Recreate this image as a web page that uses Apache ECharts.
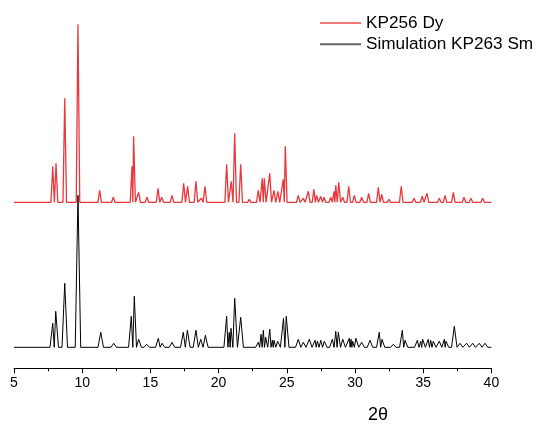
<!DOCTYPE html>
<html>
<head>
<meta charset="utf-8">
<script src="https://cdn.jsdelivr.net/npm/echarts@6/dist/echarts.min.js"></script>
<style>
html,body{margin:0;padding:0;background:#fff;}
#chart{width:541px;height:425px;}
</style>
</head>
<body>
<div id="chart"></div>
<script>
// x-axis ticks
const xTicks = [5, 10, 15, 20, 25, 30, 35, 40];
const seriesNames = ['KP256 Dy', 'Simulation KP263 Sm'];
const axisTitle = '2\u03B8';

// KP256 Dy (experimental) – peak positions (2θ) and intensities (a.u.)
const redPos = [7.84,8.08,8.72,9.69,11.28,12.28,13.65,13.77,14.14,14.75,15.56,15.83,16.58,17.44,17.73,18.34,18.73,19.0,20.59,20.93,21.18,21.62,22.25,22.91,23.2,23.35,23.75,24.06,24.35,24.74,24.89,25.84,26.21,26.58,26.99,27.19,27.49,27.73,28.22,28.46,28.59,28.81,29.1,29.54,29.95,30.49,31.0,31.71,31.96,32.49,33.39,34.33,34.93,35.28,36.18,36.6,37.21,37.99,38.5,39.36];
const redInt = [36,39,104,178,12,5,36,66,10,5,14,5,7,19,16,21,4,16,38,21,69,38,3,12,24,24,29,12,11,23,56,7,4,11,13,7,6,5,5,11,17,20,5,16,7,5,9,15,8,3,16,4,6,9,4,7,10,5,4,4];

// Simulation KP263 Sm – peak positions (2θ) and intensities (a.u.)
const blackPos = [7.84,8.06,8.72,9.69,11.36,12.31,13.6,13.82,14.14,14.73,15.58,15.85,16.58,17.41,17.71,18.34,18.69,19.03,20.59,20.78,20.91,21.18,21.62,22.91,23.11,23.28,23.45,23.75,23.94,24.06,24.33,24.76,24.96,25.84,26.21,26.65,27.07,27.24,27.49,27.75,28.34,28.59,28.78,29.1,29.58,29.71,29.83,30.07,30.49,31.1,31.78,31.98,32.81,33.47,33.67,34.57,34.82,34.96,35.37,35.55,35.74,36.18,36.55,36.67,37.28,37.7,38.19,38.63,39.11,39.53];
const blackInt = [24,36,64,152,15,4,31,51,8,3,9,4,5,15,17,17,8,12,31,15,19,49,30,5,13,17,10,18,7,7,6,29,31,8,5,8,7,6,7,6,8,16,15,8,9,8,6,9,5,7,15,8,3,17,7,7,6,8,8,7,6,6,8,6,21,4,4,4,4,4];

// vertical stacking offsets (a.u.)
const redOffset = 166;
const blackOffset = 21;

function buildPattern(pos, ints, halfW, offset) {
  const pts = [[xTicks[0], offset]];
  const n = pos.length;
  for (let i = 0; i < n; i++) {
    const x = pos[i];
    const lb = i > 0 ? Math.max(x - halfW, (pos[i-1] + x) / 2) : x - halfW;
    const rb = i < n - 1 ? Math.min(x + halfW, (x + pos[i+1]) / 2) : x + halfW;
    pts.push([lb, offset], [x, offset + ints[i]], [rb, offset]);
  }
  pts.push([xTicks[xTicks.length - 1], offset]);
  return pts;
}

const chart = echarts.init(document.getElementById('chart'), null, {renderer: 'canvas'});
const font = '"Liberation Sans", Arial, sans-serif';
chart.setOption({
  animation: false,
  backgroundColor: '#fff',
  grid: {left: 14, right: 49.6, top: 18.3, bottom: 56.7, containLabel: false},
  legend: {
    orient: 'vertical', left: 315, top: 8, itemWidth: 41, itemHeight: 2, itemGap: 1.3,
    icon: 'rect',
    textStyle: {fontFamily: font, fontSize: 17.2, color: '#000', lineHeight: 20},
    data: [
      {name: seriesNames[0], itemStyle: {color: '#f07a7a'}},
      {name: seriesNames[1], itemStyle: {color: '#666666'}}
    ]
  },
  xAxis: {
    type: 'value', min: xTicks[0], max: xTicks[xTicks.length - 1], interval: 5,
    axisLine: {show: true, lineStyle: {color: '#000', width: 1}},
    axisTick: {show: true, inside: false, length: 5, lineStyle: {color: '#000'}},
    minorTick: {show: true, splitNumber: 2, length: 3, lineStyle: {color: '#000'}},
    splitLine: {show: false},
    axisLabel: {fontFamily: font, fontSize: 14, color: '#000', margin: 8}
  },
  yAxis: {type: 'value', min: 0, max: 350, show: false, splitLine: {show: false}},
  graphic: [{
    type: 'text', left: 368, top: 406,
    style: {text: axisTitle, font: '18px "Liberation Sans", Arial, sans-serif', fill: '#000'}
  }],
  series: [
    {
      name: seriesNames[0], type: 'line', showSymbol: false, symbol: 'none',
      lineStyle: {color: '#e8383d', width: 1.3}, itemStyle: {color: '#e8383d'},
      data: buildPattern(redPos, redInt, 0.13, redOffset)
    },
    {
      name: seriesNames[1], type: 'line', showSymbol: false, symbol: 'none',
      lineStyle: {color: '#000', width: 1}, itemStyle: {color: '#000'},
      data: buildPattern(blackPos, blackInt, 0.2, blackOffset)
    }
  ]
});
</script>
</body>
</html>
